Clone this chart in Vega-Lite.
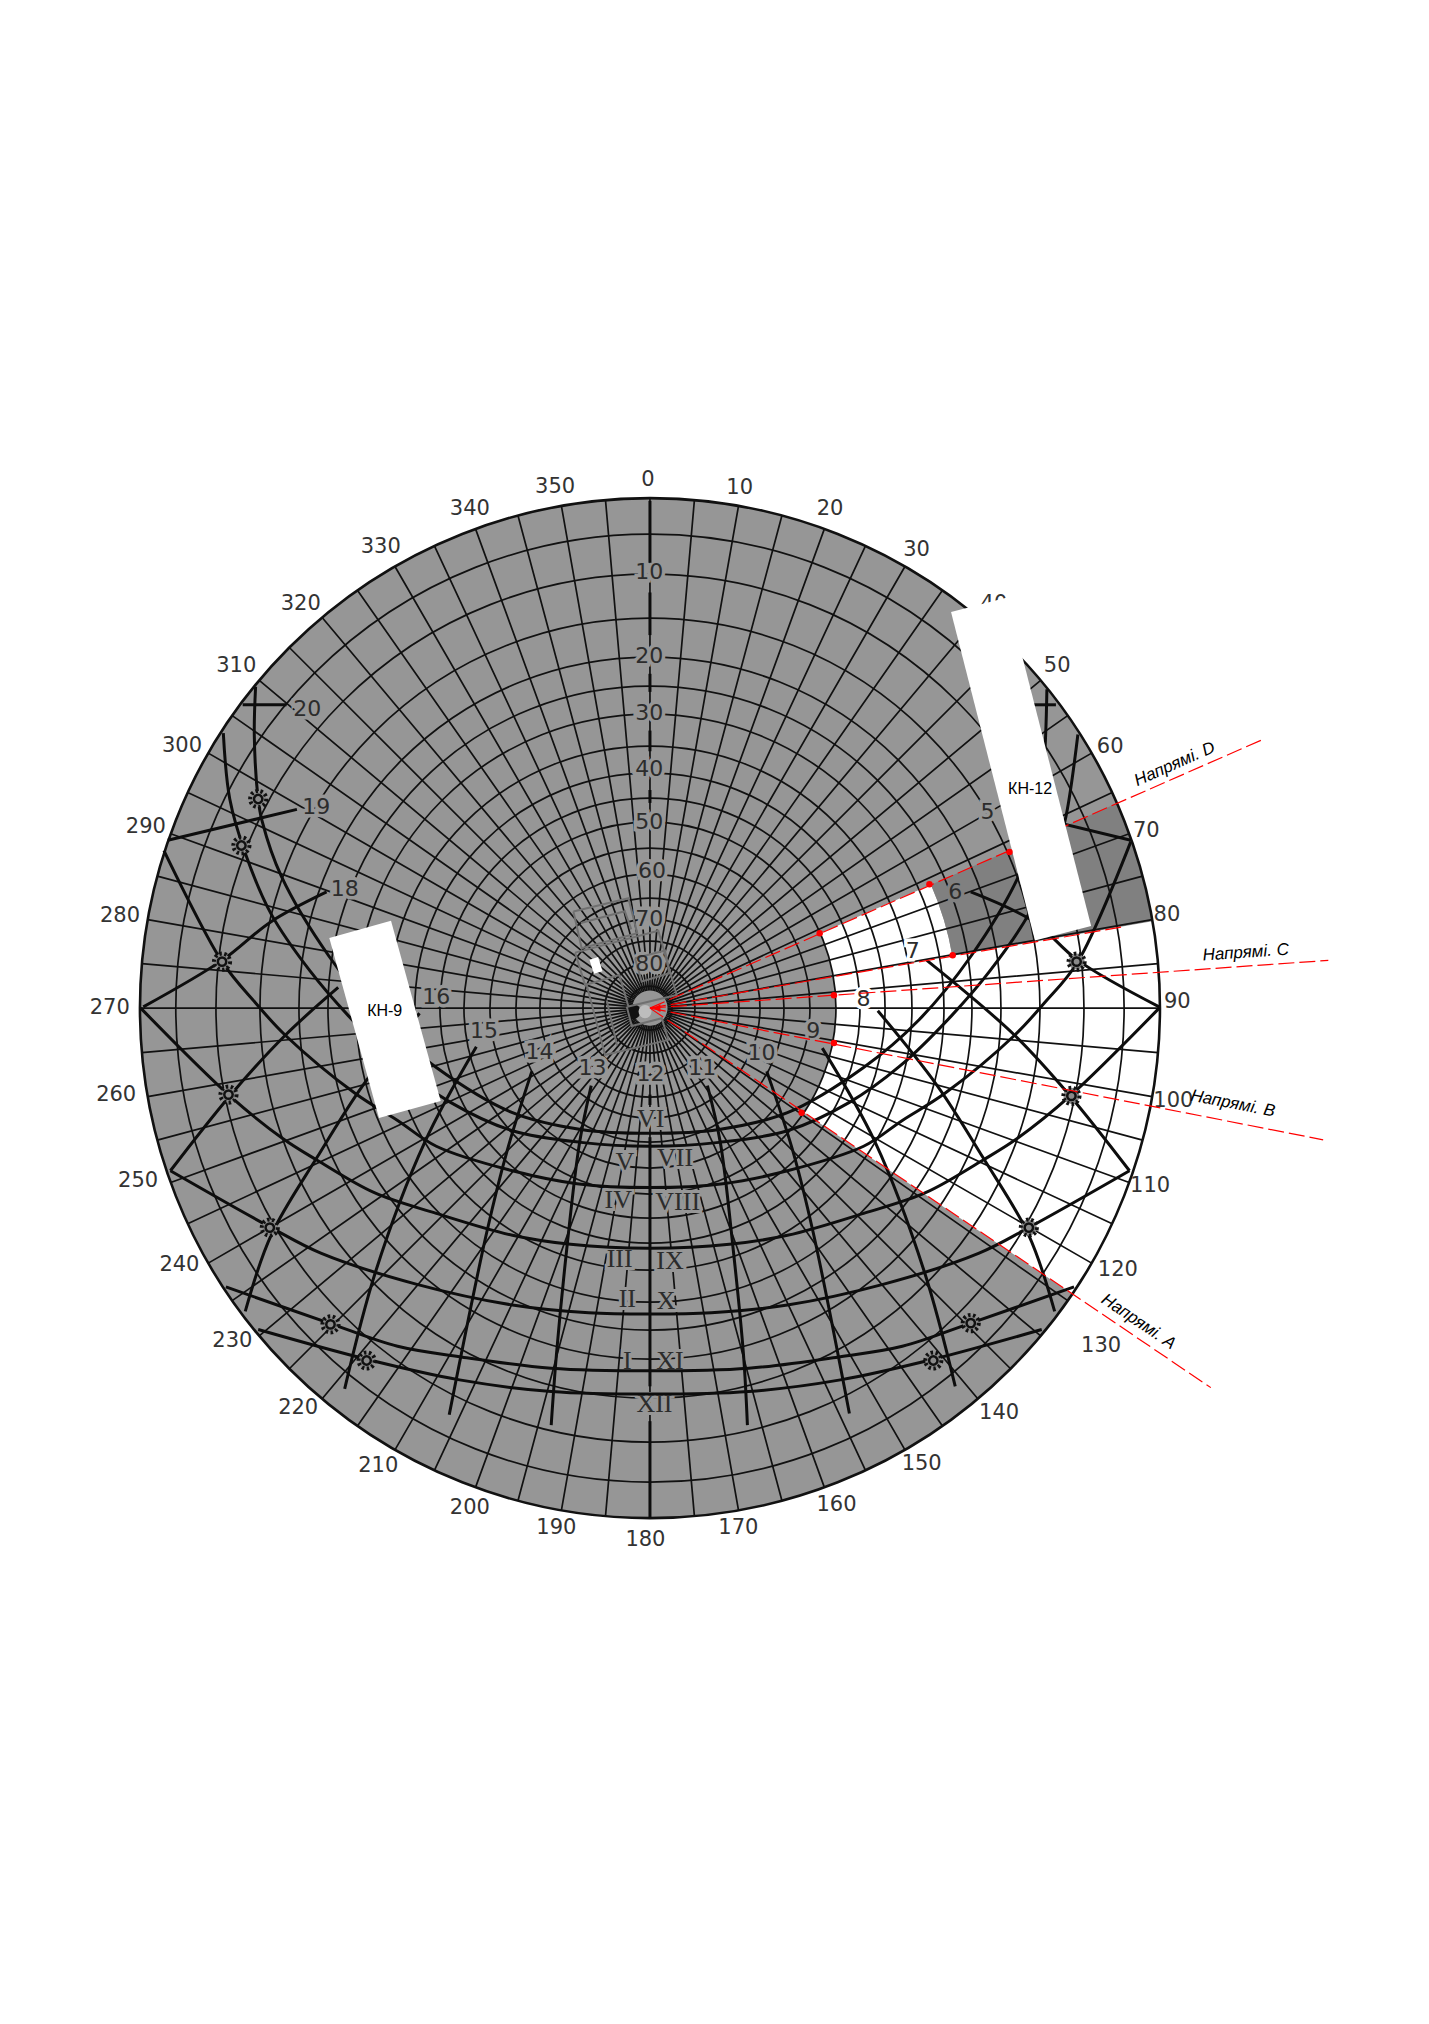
{"$schema":"https://vega.github.io/schema/vega-lite/v6.json","width":1429,"height":2024,"padding":0,"autosize":{"type":"none"},"background":"white","config":{"view":{"stroke":null}},
"datasets":{
"disk":[{"alt1":0,"alt2":90,"az1":0,"az2":360,"ground":"shaded"},{"alt1":50,"alt2":27.7,"az1":66.3,"az2":80.2,"ground":"open"},{"alt1":27.7,"alt2":0,"az1":66.3,"az2":80.2,"ground":"dark"},{"alt1":50,"alt2":0,"az1":80.2,"az2":124.1,"ground":"open"}],
"rings":[{"alt":5,"az1":0,"az2":360},{"alt":10,"az1":0,"az2":360},{"alt":15,"az1":0,"az2":360},{"alt":20,"az1":0,"az2":360},{"alt":25,"az1":0,"az2":360},{"alt":30,"az1":0,"az2":360},{"alt":35,"az1":0,"az2":360},{"alt":40,"az1":0,"az2":360},{"alt":45,"az1":0,"az2":360},{"alt":50,"az1":0,"az2":360},{"alt":55,"az1":0,"az2":360},{"alt":60,"az1":0,"az2":360},{"alt":65,"az1":0,"az2":360},{"alt":70,"az1":0,"az2":360},{"alt":75,"az1":0,"az2":360},{"alt":80,"az1":0,"az2":360},{"alt":85,"az1":0,"az2":360}],
"rim":[{"alt":0,"az1":0,"az2":360}],
"radials":[{"az":0,"a":0,"b":86},{"az":5,"a":0,"b":86},{"az":10,"a":0,"b":86},{"az":15,"a":0,"b":86},{"az":20,"a":0,"b":86},{"az":25,"a":0,"b":86},{"az":30,"a":0,"b":86},{"az":35,"a":0,"b":86},{"az":40,"a":0,"b":86},{"az":45,"a":0,"b":86},{"az":50,"a":0,"b":86},{"az":55,"a":0,"b":86},{"az":60,"a":0,"b":86},{"az":65,"a":0,"b":86},{"az":70,"a":0,"b":86},{"az":75,"a":0,"b":86},{"az":80,"a":0,"b":86},{"az":85,"a":0,"b":86},{"az":90,"a":0,"b":86},{"az":95,"a":0,"b":86},{"az":100,"a":0,"b":86},{"az":105,"a":0,"b":86},{"az":110,"a":0,"b":86},{"az":115,"a":0,"b":86},{"az":120,"a":0,"b":86},{"az":125,"a":0,"b":86},{"az":130,"a":0,"b":86},{"az":135,"a":0,"b":86},{"az":140,"a":0,"b":86},{"az":145,"a":0,"b":86},{"az":150,"a":0,"b":86},{"az":155,"a":0,"b":86},{"az":160,"a":0,"b":86},{"az":165,"a":0,"b":86},{"az":170,"a":0,"b":86},{"az":175,"a":0,"b":86},{"az":180,"a":0,"b":86},{"az":185,"a":0,"b":86},{"az":190,"a":0,"b":86},{"az":195,"a":0,"b":86},{"az":200,"a":0,"b":86},{"az":205,"a":0,"b":86},{"az":210,"a":0,"b":86},{"az":215,"a":0,"b":86},{"az":220,"a":0,"b":86},{"az":225,"a":0,"b":86},{"az":230,"a":0,"b":86},{"az":235,"a":0,"b":86},{"az":240,"a":0,"b":86},{"az":245,"a":0,"b":86},{"az":250,"a":0,"b":86},{"az":255,"a":0,"b":86},{"az":260,"a":0,"b":86},{"az":265,"a":0,"b":86},{"az":270,"a":0,"b":86},{"az":275,"a":0,"b":86},{"az":280,"a":0,"b":86},{"az":285,"a":0,"b":86},{"az":290,"a":0,"b":86},{"az":295,"a":0,"b":86},{"az":300,"a":0,"b":86},{"az":305,"a":0,"b":86},{"az":310,"a":0,"b":86},{"az":315,"a":0,"b":86},{"az":320,"a":0,"b":86},{"az":325,"a":0,"b":86},{"az":330,"a":0,"b":86},{"az":335,"a":0,"b":86},{"az":340,"a":0,"b":86},{"az":345,"a":0,"b":86},{"az":350,"a":0,"b":86},{"az":355,"a":0,"b":86}],
"azimuth":[{"t":"0","x":502,"y":372},{"t":"10","x":573,"y":378},{"t":"20","x":643,"y":394},{"t":"30","x":710,"y":426},{"t":"40","x":770,"y":468},{"t":"50","x":819,"y":516},{"t":"60","x":860,"y":579},{"t":"70","x":888,"y":644},{"t":"80","x":904,"y":709},{"t":"90","x":912,"y":776},{"t":"100","x":909,"y":853},{"t":"110","x":891,"y":919},{"t":"120","x":866,"y":984},{"t":"130","x":853,"y":1043},{"t":"140","x":774,"y":1095},{"t":"150","x":714,"y":1134},{"t":"160","x":648,"y":1166},{"t":"170","x":572,"y":1184},{"t":"180","x":500,"y":1193},{"t":"190","x":431,"y":1184},{"t":"200","x":364,"y":1168},{"t":"210","x":293,"y":1136},{"t":"220","x":231,"y":1091},{"t":"230","x":180,"y":1039},{"t":"240","x":139,"y":980},{"t":"250","x":107,"y":915},{"t":"260","x":90,"y":848},{"t":"270","x":85,"y":781},{"t":"280","x":93,"y":710},{"t":"290","x":113,"y":641},{"t":"300","x":141,"y":578},{"t":"310","x":183,"y":516},{"t":"320","x":233,"y":468},{"t":"330","x":295,"y":424},{"t":"340","x":364,"y":394},{"t":"350","x":430,"y":377}],
"labels":[{"t":"10","x":503,"y":443,"ground":"shaded"},{"t":"20","x":503,"y":508,"ground":"shaded"},{"t":"30","x":503,"y":552,"ground":"shaded"},{"t":"40","x":503,"y":596,"ground":"shaded"},{"t":"50","x":503,"y":637,"ground":"shaded"},{"t":"60","x":505,"y":675,"ground":"shaded"},{"t":"70","x":503,"y":712,"ground":"shaded"},{"t":"80","x":503,"y":747,"ground":"shaded"},{"t":"5","x":765,"y":629,"ground":"shaded"},{"t":"6","x":740,"y":691,"ground":"dark"},{"t":"7","x":707,"y":737,"ground":"open"},{"t":"8","x":669,"y":774,"ground":"open"},{"t":"9","x":630,"y":799,"ground":"shaded"},{"t":"10","x":590,"y":816,"ground":"shaded"},{"t":"11","x":544,"y":827,"ground":"shaded"},{"t":"12","x":504,"y":832,"ground":"shaded"},{"t":"13","x":459,"y":827,"ground":"shaded"},{"t":"14","x":418,"y":815,"ground":"shaded"},{"t":"15","x":375,"y":799,"ground":"shaded"},{"t":"16","x":338,"y":772,"ground":"shaded"},{"t":"18","x":267,"y":689,"ground":"shaded"},{"t":"19","x":245,"y":625,"ground":"shaded"},{"t":"20","x":238,"y":549,"ground":"shaded"}],
"roman":[{"t":"VI","x":504,"y":867,"ground":"shaded"},{"t":"VII","x":523,"y":897,"ground":"shaded"},{"t":"V","x":484,"y":900,"ground":"shaded"},{"t":"VIII","x":525,"y":931,"ground":"shaded"},{"t":"IV","x":479,"y":930,"ground":"shaded"},{"t":"IX","x":519,"y":977,"ground":"shaded"},{"t":"III","x":480,"y":975,"ground":"shaded"},{"t":"X","x":516,"y":1008,"ground":"shaded"},{"t":"II","x":486,"y":1006,"ground":"shaded"},{"t":"XI","x":519,"y":1054,"ground":"shaded"},{"t":"I","x":486,"y":1054,"ground":"shaded"},{"t":"XII","x":507,"y":1088,"ground":"shaded"}],
"curves":[
{"id":"P1","i":1,"x":198,"y":532},{"id":"P1","i":2,"x":197,"y":570},{"id":"P1","i":3,"x":200,"y":619},{"id":"P1","i":4,"x":203,"y":636},{"id":"P1","i":5,"x":218,"y":679},{"id":"P1","i":6,"x":255,"y":741},{"id":"P1","i":7,"x":295,"y":790},{"id":"P1","i":8,"x":338,"y":827},{"id":"P1","i":9,"x":397,"y":862},{"id":"P1","i":10,"x":450,"y":875},{"id":"P1","i":11,"x":503.5,"y":878},{"id":"P1","i":12,"x":557,"y":875},{"id":"P1","i":13,"x":610,"y":862},{"id":"P1","i":14,"x":669,"y":827},{"id":"P1","i":15,"x":712,"y":790},{"id":"P1","i":16,"x":752,"y":741},{"id":"P1","i":17,"x":789,"y":679},{"id":"P1","i":18,"x":804,"y":636},{"id":"P1","i":19,"x":807,"y":619},{"id":"P1","i":20,"x":810,"y":570},{"id":"P1","i":21,"x":811,"y":534},
{"id":"P2","i":1,"x":173,"y":568},{"id":"P2","i":2,"x":178,"y":619},{"id":"P2","i":3,"x":190,"y":661},{"id":"P2","i":4,"x":210,"y":708},{"id":"P2","i":5,"x":240,"y":752},{"id":"P2","i":6,"x":270,"y":787},{"id":"P2","i":7,"x":310,"y":826},{"id":"P2","i":8,"x":349,"y":854},{"id":"P2","i":9,"x":397,"y":876},{"id":"P2","i":10,"x":450,"y":885},{"id":"P2","i":11,"x":503.5,"y":888},{"id":"P2","i":12,"x":557,"y":885},{"id":"P2","i":13,"x":610,"y":876},{"id":"P2","i":14,"x":658,"y":854},{"id":"P2","i":15,"x":697,"y":826},{"id":"P2","i":16,"x":737,"y":787},{"id":"P2","i":17,"x":767,"y":752},{"id":"P2","i":18,"x":797,"y":708},{"id":"P2","i":19,"x":817,"y":661},{"id":"P2","i":20,"x":825,"y":636},{"id":"P2","i":21,"x":835,"y":569},
{"id":"P3","i":1,"x":127,"y":659},{"id":"P3","i":2,"x":172,"y":745},{"id":"P3","i":3,"x":198,"y":777},{"id":"P3","i":4,"x":221,"y":802},{"id":"P3","i":5,"x":275,"y":847},{"id":"P3","i":6,"x":308,"y":868},{"id":"P3","i":7,"x":338,"y":888},{"id":"P3","i":8,"x":397,"y":907},{"id":"P3","i":9,"x":447,"y":917},{"id":"P3","i":10,"x":503.5,"y":920},{"id":"P3","i":11,"x":560,"y":917},{"id":"P3","i":12,"x":610,"y":907},{"id":"P3","i":13,"x":669,"y":888},{"id":"P3","i":14,"x":699,"y":868},{"id":"P3","i":15,"x":732,"y":847},{"id":"P3","i":16,"x":786,"y":802},{"id":"P3","i":17,"x":809,"y":777},{"id":"P3","i":18,"x":835,"y":745},{"id":"P3","i":19,"x":876,"y":652},
{"id":"P4","i":1,"x":109,"y":781},{"id":"P4","i":2,"x":178,"y":849},{"id":"P4","i":3,"x":219,"y":882},{"id":"P4","i":4,"x":246,"y":899},{"id":"P4","i":5,"x":290,"y":924},{"id":"P4","i":6,"x":338,"y":940},{"id":"P4","i":7,"x":397,"y":957},{"id":"P4","i":8,"x":442,"y":964},{"id":"P4","i":9,"x":503.5,"y":967},{"id":"P4","i":10,"x":565,"y":964},{"id":"P4","i":11,"x":610,"y":957},{"id":"P4","i":12,"x":669,"y":940},{"id":"P4","i":13,"x":717,"y":924},{"id":"P4","i":14,"x":761,"y":899},{"id":"P4","i":15,"x":788,"y":882},{"id":"P4","i":16,"x":829,"y":849},{"id":"P4","i":17,"x":898,"y":781},
{"id":"P5","i":1,"x":132,"y":907},{"id":"P5","i":2,"x":210,"y":951},{"id":"P5","i":3,"x":249,"y":971},{"id":"P5","i":4,"x":323,"y":995},{"id":"P5","i":5,"x":397,"y":1011},{"id":"P5","i":6,"x":456,"y":1017},{"id":"P5","i":7,"x":503.5,"y":1018},{"id":"P5","i":8,"x":551,"y":1017},{"id":"P5","i":9,"x":610,"y":1011},{"id":"P5","i":10,"x":684,"y":995},{"id":"P5","i":11,"x":758,"y":971},{"id":"P5","i":12,"x":797,"y":951},{"id":"P5","i":13,"x":875,"y":907},
{"id":"P6","i":1,"x":175,"y":997},{"id":"P6","i":2,"x":255,"y":1025},{"id":"P6","i":3,"x":308,"y":1043},{"id":"P6","i":4,"x":356,"y":1051},{"id":"P6","i":5,"x":427,"y":1060},{"id":"P6","i":6,"x":503.5,"y":1062},{"id":"P6","i":7,"x":580,"y":1060},{"id":"P6","i":8,"x":651,"y":1051},{"id":"P6","i":9,"x":699,"y":1043},{"id":"P6","i":10,"x":752,"y":1025},{"id":"P6","i":11,"x":832,"y":997},
{"id":"P7","i":1,"x":200,"y":1030},{"id":"P7","i":2,"x":284,"y":1053},{"id":"P7","i":3,"x":356,"y":1069},{"id":"P7","i":4,"x":427,"y":1078},{"id":"P7","i":5,"x":503.5,"y":1080},{"id":"P7","i":6,"x":580,"y":1078},{"id":"P7","i":7,"x":651,"y":1069},{"id":"P7","i":8,"x":723,"y":1053},{"id":"P7","i":9,"x":807,"y":1030},
{"id":"h13","i":1,"x":458,"y":841},{"id":"h13","i":2,"x":449,"y":885},{"id":"h13","i":3,"x":439,"y":968},{"id":"h13","i":4,"x":431,"y":1050},{"id":"h13","i":5,"x":427,"y":1104},
{"id":"h14","i":1,"x":412,"y":830},{"id":"h14","i":2,"x":393,"y":891},{"id":"h14","i":3,"x":377,"y":955},{"id":"h14","i":4,"x":348,"y":1096},
{"id":"h15","i":1,"x":369,"y":811},{"id":"h15","i":2,"x":329,"y":885},{"id":"h15","i":3,"x":291,"y":985},{"id":"h15","i":4,"x":267,"y":1076},
{"id":"h16","i":1,"x":325,"y":785},{"id":"h16","i":2,"x":281,"y":841},{"id":"h16","i":3,"x":246,"y":896},{"id":"h16","i":4,"x":210,"y":957},{"id":"h16","i":5,"x":190,"y":1016},
{"id":"h17","i":1,"x":262,"y":765},{"id":"h17","i":2,"x":221,"y":802},{"id":"h17","i":3,"x":178,"y":849},{"id":"h17","i":4,"x":132,"y":907},
{"id":"h18","i":1,"x":253,"y":691},{"id":"h18","i":2,"x":210,"y":714},{"id":"h18","i":3,"x":172,"y":744},{"id":"h18","i":4,"x":111,"y":780},
{"id":"h19","i":1,"x":230,"y":627},{"id":"h19","i":2,"x":130,"y":651},
{"id":"h20","i":1,"x":222,"y":546},{"id":"h20","i":2,"x":188,"y":546},
{"id":"h11","i":1,"x":548,"y":841},{"id":"h11","i":2,"x":558,"y":885},{"id":"h11","i":3,"x":568,"y":968},{"id":"h11","i":4,"x":576,"y":1050},{"id":"h11","i":5,"x":579,"y":1104},
{"id":"h10","i":1,"x":594,"y":830},{"id":"h10","i":2,"x":614,"y":891},{"id":"h10","i":3,"x":630,"y":955},{"id":"h10","i":4,"x":658,"y":1095},
{"id":"h9","i":1,"x":637,"y":812},{"id":"h9","i":2,"x":678,"y":885},{"id":"h9","i":3,"x":716,"y":985},{"id":"h9","i":4,"x":740,"y":1074},
{"id":"h8","i":1,"x":680,"y":783},{"id":"h8","i":2,"x":726,"y":841},{"id":"h8","i":3,"x":761,"y":896},{"id":"h8","i":4,"x":797,"y":957},{"id":"h8","i":5,"x":817,"y":1016},
{"id":"h7","i":1,"x":718,"y":744},{"id":"h7","i":2,"x":786,"y":802},{"id":"h7","i":3,"x":829,"y":849},{"id":"h7","i":4,"x":875,"y":907},
{"id":"h6","i":1,"x":752,"y":691},{"id":"h6","i":2,"x":801,"y":714},{"id":"h6","i":3,"x":835,"y":744},{"id":"h6","i":4,"x":898,"y":780},
{"id":"h5","i":1,"x":777,"y":627},{"id":"h5","i":2,"x":876,"y":651},
{"id":"h4","i":1,"x":800,"y":546},{"id":"h4","i":2,"x":818,"y":546},
{"id":"v1","i":1,"x":503.5,"y":388},{"id":"v1","i":2,"x":503.5,"y":436},
{"id":"v2","i":1,"x":503.5,"y":459},{"id":"v2","i":2,"x":503.5,"y":492},
{"id":"v3","i":1,"x":503.5,"y":522},{"id":"v3","i":2,"x":503.5,"y":536},
{"id":"v4","i":1,"x":503.5,"y":566},{"id":"v4","i":2,"x":503.5,"y":582},
{"id":"v5","i":1,"x":503.5,"y":612},{"id":"v5","i":2,"x":503.5,"y":622},
{"id":"v6","i":1,"x":503.5,"y":848},{"id":"v6","i":2,"x":503.5,"y":856},
{"id":"v7","i":1,"x":503.5,"y":881},{"id":"v7","i":2,"x":503.5,"y":1074},
{"id":"v8","i":1,"x":503.5,"y":1101},{"id":"v8","i":2,"x":503.5,"y":1176}],
"plan":[
{"id":"A","i":1,"x":444.2,"y":706.2},{"id":"A","i":2,"x":486.8,"y":695.9},{"id":"A","i":3,"x":493.7,"y":723},{"id":"A","i":4,"x":450.6,"y":734.6},{"id":"A","i":5,"x":444.2,"y":706.2},
{"id":"B","i":1,"x":445.5,"y":738},{"id":"B","i":2,"x":510,"y":721},{"id":"B","i":3,"x":524.2,"y":770.8},{"id":"B","i":4,"x":486.8,"y":779.8},{"id":"B","i":5,"x":479.8,"y":755.3},{"id":"B","i":6,"x":453.2,"y":763},{"id":"B","i":7,"x":445.5,"y":738},
{"id":"C","i":1,"x":454.5,"y":763},{"id":"C","i":2,"x":468.7,"y":817.3},{"id":"C","i":3,"x":517.8,"y":805.6},{"id":"C","i":4,"x":512.6,"y":788.9},{"id":"C","i":5,"x":489.4,"y":794.8},{"id":"C","i":6,"x":485.5,"y":779.8},
{"id":"D","i":1,"x":491.9,"y":742.4},{"id":"D","i":2,"x":515.2,"y":736.4},{"id":"D","i":3,"x":518.5,"y":754},{"id":"D","i":4,"x":497.1,"y":760.4},{"id":"D","i":5,"x":491.9,"y":742.4},
{"id":"E","i":1,"x":450,"y":715},{"id":"E","i":2,"x":484,"y":706},{"id":"E","i":3,"x":489,"y":720},
{"id":"F","i":1,"x":470,"y":775},{"id":"F","i":2,"x":478,"y":810}],
"suns":[{"x":200,"y":619},{"x":187,"y":655},{"x":172,"y":745},{"x":177,"y":848},{"x":209,"y":951},{"x":256,"y":1026},{"x":284,"y":1054},{"x":834,"y":745},{"x":830,"y":849},{"x":797,"y":951},{"x":752,"y":1025},{"x":723,"y":1054}],
"rays":[{"id":"A","x":503.5,"y":781,"x2":938,"y2":1075},{"id":"B","x":503.5,"y":781,"x2":1025,"y2":883},{"id":"C","x":503.5,"y":781,"x2":1029,"y2":744},{"id":"D","x":503.5,"y":781,"x2":978,"y2":573},{"id":"E","x":503.5,"y":781,"x2":870,"y2":718}],
"dots":[{"x":621,"y":862},{"x":646,"y":808},{"x":646,"y":771},{"x":635,"y":723},{"x":720,"y":685},{"x":738,"y":740},{"x":782,"y":660}],
"panels":[{"x":758.5,"y":468.5,"x2":823.5,"y2":723,"w":58},{"x":279,"y":720,"x2":317.5,"y2":859.5,"w":64}],
"spot":[{"x":460,"y":742.5,"x2":463.4,"y2":753.4}],
"panelNames":[{"t":"КН-12","x":798,"y":611},{"t":"КН-9","x":298,"y":783}],
"directions":[{"t":"Напрямі. A","x":882,"y":1024,"az":124},{"t":"Напрямі. B","x":955,"y":855,"az":101},{"t":"Напрямі. C","x":965,"y":738,"az":86},{"t":"Напрямі. D","x":910,"y":592,"az":66}],
"centreDark":[{"x":490.6,"y":783.7}],"centreLight":[{"x":499.7,"y":783.7}],"arrow":[{"x":509,"y":781}]
},
"layer":[
{"data":{"name":"disk"},"mark":{"type":"arc"},"encoding":{"x":{"datum":503.5,"type":"quantitative","scale":{"domain":[0,1107]},"axis":null},"y":{"datum":781,"type":"quantitative","scale":{"domain":[1568,0]},"axis":null},"theta":{"field":"az1","type":"quantitative","scale":{"domain":[0,360],"range":[0,6.283185307]}},"theta2":{"field":"az2"},"radius":{"field":"alt1","type":"quantitative","scale":{"type":"linear","domain":[90,85,80,75,70,65,60,55,50,45,40,35,30,25,20,15,10,5,0],"range":[0,22,45,67,89,110,134,160,186,210,235,262,294,322,351,390,434,474,510]}},"radius2":{"field":"alt2"},"fill":{"field":"ground","type":"nominal","scale":{"domain":["shaded","dark","open"],"range":["#969696","#808080","#ffffff"]},"legend":null}}},
{"data":{"name":"rings"},"mark":{"type":"arc","stroke":"#111111","strokeWidth":1.7,"fillOpacity":0},"encoding":{"x":{"datum":503.5,"type":"quantitative","scale":{"domain":[0,1107]},"axis":null},"y":{"datum":781,"type":"quantitative","scale":{"domain":[1568,0]},"axis":null},"theta":{"field":"az1","type":"quantitative","scale":{"domain":[0,360],"range":[0,6.283185307]}},"theta2":{"field":"az2"},"radius":{"field":"alt","type":"quantitative","scale":{"type":"linear","domain":[90,85,80,75,70,65,60,55,50,45,40,35,30,25,20,15,10,5,0],"range":[0,22,45,67,89,110,134,160,186,210,235,262,294,322,351,390,434,474,510]}},"radius2":{"field":"alt"}}},
{"data":{"name":"radials"},"mark":{"type":"arc","stroke":"#111111","strokeWidth":1.7,"fillOpacity":0},"encoding":{"x":{"datum":503.5,"type":"quantitative","scale":{"domain":[0,1107]},"axis":null},"y":{"datum":781,"type":"quantitative","scale":{"domain":[1568,0]},"axis":null},"theta":{"field":"az","type":"quantitative","scale":{"domain":[0,360],"range":[0,6.283185307]}},"theta2":{"field":"az"},"radius":{"field":"a","type":"quantitative","scale":{"type":"linear","domain":[90,85,80,75,70,65,60,55,50,45,40,35,30,25,20,15,10,5,0],"range":[0,22,45,67,89,110,134,160,186,210,235,262,294,322,351,390,434,474,510]}},"radius2":{"field":"b"}}},
{"data":{"name":"rim"},"mark":{"type":"arc","stroke":"#111111","strokeWidth":2.6,"fillOpacity":0},"encoding":{"x":{"datum":503.5,"type":"quantitative","scale":{"domain":[0,1107]},"axis":null},"y":{"datum":781,"type":"quantitative","scale":{"domain":[1568,0]},"axis":null},"theta":{"field":"az1","type":"quantitative","scale":{"domain":[0,360],"range":[0,6.283185307]}},"theta2":{"field":"az2"},"radius":{"field":"alt","type":"quantitative","scale":{"type":"linear","domain":[90,85,80,75,70,65,60,55,50,45,40,35,30,25,20,15,10,5,0],"range":[0,22,45,67,89,110,134,160,186,210,235,262,294,322,351,390,434,474,510]}},"radius2":{"field":"alt"}}},
{"data":{"name":"labels"},"mark":{"type":"text","font":"DejaVu Sans","fontSize":22,"strokeWidth":7,"fillOpacity":0,"align":"center","baseline":"middle"},"encoding":{"x":{"field":"x","type":"quantitative","scale":{"domain":[0,1107]},"axis":null},"y":{"field":"y","type":"quantitative","scale":{"domain":[1568,0]},"axis":null},"text":{"field":"t"},"stroke":{"field":"ground","type":"nominal","scale":{"domain":["shaded","dark","open"],"range":["#969696","#808080","#ffffff"]},"legend":null}}},
{"data":{"name":"roman"},"mark":{"type":"text","font":"Liberation Serif","fontSize":26,"strokeWidth":6,"fillOpacity":0,"align":"center","baseline":"middle"},"encoding":{"x":{"field":"x","type":"quantitative","scale":{"domain":[0,1107]},"axis":null},"y":{"field":"y","type":"quantitative","scale":{"domain":[1568,0]},"axis":null},"text":{"field":"t"},"stroke":{"field":"ground","type":"nominal","scale":{"domain":["shaded","dark","open"],"range":["#969696","#808080","#ffffff"]},"legend":null}}},
{"data":{"name":"centreDark"},"mark":{"type":"point","shape":"circle","filled":true,"fill":"#111111","size":220,"opacity":1},"encoding":{"x":{"field":"x","type":"quantitative","scale":{"domain":[0,1107]},"axis":null},"y":{"field":"y","type":"quantitative","scale":{"domain":[1568,0]},"axis":null}}},
{"data":{"name":"centreLight"},"mark":{"type":"point","shape":"circle","filled":true,"fill":"#bdbdbd","size":170,"opacity":1},"encoding":{"x":{"field":"x","type":"quantitative","scale":{"domain":[0,1107]},"axis":null},"y":{"field":"y","type":"quantitative","scale":{"domain":[1568,0]},"axis":null}}},
{"data":{"name":"plan"},"mark":{"type":"line","stroke":"#707070","strokeWidth":2,"interpolate":"linear"},"encoding":{"x":{"field":"x","type":"quantitative","scale":{"domain":[0,1107]},"axis":null},"y":{"field":"y","type":"quantitative","scale":{"domain":[1568,0]},"axis":null},"detail":{"field":"id"},"order":{"field":"i"}}},
{"data":{"name":"curves"},"mark":{"type":"line","stroke":"#0d0d0d","strokeWidth":3,"interpolate":"catmull-rom"},"encoding":{"x":{"field":"x","type":"quantitative","scale":{"domain":[0,1107]},"axis":null},"y":{"field":"y","type":"quantitative","scale":{"domain":[1568,0]},"axis":null},"detail":{"field":"id"},"order":{"field":"i"}}},
{"data":{"name":"azimuth"},"mark":{"type":"text","font":"DejaVu Sans","fontSize":21,"fill":"#333333","align":"center","baseline":"middle"},"encoding":{"x":{"field":"x","type":"quantitative","scale":{"domain":[0,1107]},"axis":null},"y":{"field":"y","type":"quantitative","scale":{"domain":[1568,0]},"axis":null},"text":{"field":"t"}}},
{"data":{"name":"labels"},"mark":{"type":"text","font":"DejaVu Sans","fontSize":22,"fill":"#2c2c2c","align":"center","baseline":"middle"},"encoding":{"x":{"field":"x","type":"quantitative","scale":{"domain":[0,1107]},"axis":null},"y":{"field":"y","type":"quantitative","scale":{"domain":[1568,0]},"axis":null},"text":{"field":"t"}}},
{"data":{"name":"roman"},"mark":{"type":"text","font":"Liberation Serif","fontSize":26,"fill":"#2c2c2c","align":"center","baseline":"middle"},"encoding":{"x":{"field":"x","type":"quantitative","scale":{"domain":[0,1107]},"axis":null},"y":{"field":"y","type":"quantitative","scale":{"domain":[1568,0]},"axis":null},"text":{"field":"t"}}},
{"data":{"name":"suns"},"mark":{"type":"point","shape":"circle","fill":"#8a8a8a","fillOpacity":1,"stroke":"#111111","strokeWidth":4,"strokeDash":[2.5,2.5],"size":260,"opacity":1},"encoding":{"x":{"field":"x","type":"quantitative","scale":{"domain":[0,1107]},"axis":null},"y":{"field":"y","type":"quantitative","scale":{"domain":[1568,0]},"axis":null}}},
{"data":{"name":"suns"},"mark":{"type":"point","shape":"circle","fill":"#8a8a8a","fillOpacity":1,"stroke":"#111111","strokeWidth":2.5,"size":70,"opacity":1},"encoding":{"x":{"field":"x","type":"quantitative","scale":{"domain":[0,1107]},"axis":null},"y":{"field":"y","type":"quantitative","scale":{"domain":[1568,0]},"axis":null}}},
{"data":{"name":"rays"},"mark":{"type":"rule","stroke":"#ff0000","strokeWidth":1.2,"strokeDash":[16,5]},"encoding":{"x":{"field":"x","type":"quantitative","scale":{"domain":[0,1107]},"axis":null},"y":{"field":"y","type":"quantitative","scale":{"domain":[1568,0]},"axis":null},"x2":{"field":"x2"},"y2":{"field":"y2"}}},
{"data":{"name":"panels"},"mark":{"type":"rule","stroke":"#ffffff","strokeCap":"butt"},"encoding":{"x":{"field":"x","type":"quantitative","scale":{"domain":[0,1107]},"axis":null},"y":{"field":"y","type":"quantitative","scale":{"domain":[1568,0]},"axis":null},"x2":{"field":"x2"},"y2":{"field":"y2"},"strokeWidth":{"field":"w","type":"quantitative","scale":null}}},
{"data":{"name":"spot"},"mark":{"type":"rule","stroke":"#ffffff","strokeWidth":9,"strokeCap":"butt"},"encoding":{"x":{"field":"x","type":"quantitative","scale":{"domain":[0,1107]},"axis":null},"y":{"field":"y","type":"quantitative","scale":{"domain":[1568,0]},"axis":null},"x2":{"field":"x2"},"y2":{"field":"y2"}}},
{"data":{"name":"dots"},"mark":{"type":"point","shape":"circle","filled":true,"fill":"#ff0000","size":42,"opacity":1},"encoding":{"x":{"field":"x","type":"quantitative","scale":{"domain":[0,1107]},"axis":null},"y":{"field":"y","type":"quantitative","scale":{"domain":[1568,0]},"axis":null}}},
{"data":{"name":"arrow"},"mark":{"type":"point","shape":"triangle-left","filled":true,"fill":"#ff0000","size":60,"opacity":1},"encoding":{"x":{"field":"x","type":"quantitative","scale":{"domain":[0,1107]},"axis":null},"y":{"field":"y","type":"quantitative","scale":{"domain":[1568,0]},"axis":null}}},
{"data":{"name":"panelNames"},"mark":{"type":"text","font":"Liberation Sans","fontSize":16,"fill":"#000000","align":"center","baseline":"middle"},"encoding":{"x":{"field":"x","type":"quantitative","scale":{"domain":[0,1107]},"axis":null},"y":{"field":"y","type":"quantitative","scale":{"domain":[1568,0]},"axis":null},"text":{"field":"t"}}},
{"data":{"name":"directions"},"mark":{"type":"text","font":"Liberation Sans","fontStyle":"italic","fontSize":17,"fill":"#000000","align":"center","baseline":"middle"},"encoding":{"x":{"field":"x","type":"quantitative","scale":{"domain":[0,1107]},"axis":null},"y":{"field":"y","type":"quantitative","scale":{"domain":[1568,0]},"axis":null},"text":{"field":"t"},"angle":{"field":"az","type":"quantitative","scale":{"domain":[0,360],"range":[-90,270]}}}}
]}
